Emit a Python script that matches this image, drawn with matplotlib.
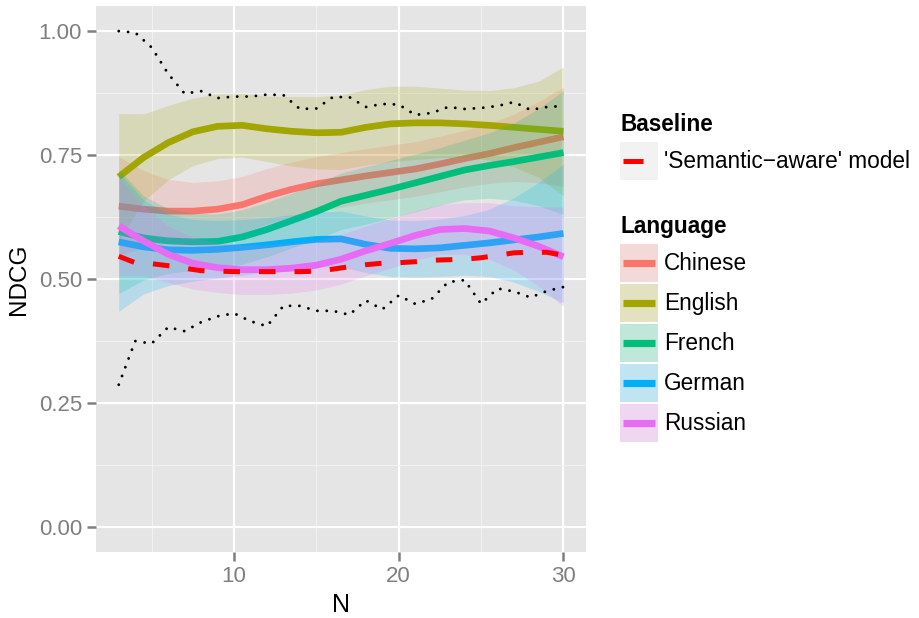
import numpy as np
import matplotlib
matplotlib.use('Agg')
import matplotlib.pyplot as plt
from matplotlib.patches import Rectangle

plt.rcParams['font.family'] = ['Liberation Sans', 'DejaVu Sans']

# raw per-N values
n_vals = list(range(3, 31))
upper_env = [1.0, 0.997, 0.967, 0.914, 0.874, 0.879, 0.865, 0.868, 0.868, 0.872,
             0.871, 0.843, 0.844, 0.867, 0.867, 0.847, 0.853, 0.852, 0.831, 0.835,
             0.847, 0.843, 0.845, 0.849, 0.857, 0.841, 0.847, 0.849]
lower_env = [0.287, 0.375, 0.370, 0.403, 0.395, 0.413, 0.425, 0.431, 0.415, 0.405,
             0.446, 0.446, 0.436, 0.436, 0.428, 0.457, 0.439, 0.467, 0.450, 0.460,
             0.494, 0.498, 0.450, 0.481, 0.475, 0.463, 0.476, 0.484]
semantic = [0.546, 0.533, 0.531, 0.527, 0.522, 0.517, 0.516, 0.515, 0.515, 0.515,
            0.515, 0.515, 0.516, 0.520, 0.525, 0.529, 0.532, 0.533, 0.535, 0.538,
            0.539, 0.540, 0.543, 0.548, 0.553, 0.554, 0.554, 0.548]

# smoothed fits per language
x_fit = [3, 4.5, 6, 7.5, 9, 10.5, 12, 13.5, 15, 16.5, 18, 19.5, 21, 22.5, 24, 25.5, 27, 28.5, 30]
languages = ['Chinese', 'English', 'French', 'German', 'Russian']
colors = ['#F8766D', '#A3A500', '#00BF7D', '#00B0F6', '#E76BF3']

fit_chinese = [0.647, 0.641, 0.637, 0.637, 0.641, 0.650, 0.667, 0.681, 0.692, 0.700,
               0.708, 0.715, 0.722, 0.732, 0.743, 0.753, 0.765, 0.776, 0.787]
se_chinese = [0.100, 0.078, 0.064, 0.058, 0.057, 0.057, 0.056, 0.055, 0.055, 0.055,
              0.055, 0.055, 0.055, 0.056, 0.057, 0.060, 0.068, 0.082, 0.100]
fit_english = [0.706, 0.745, 0.775, 0.797, 0.808, 0.810, 0.803, 0.798, 0.795, 0.796,
               0.806, 0.813, 0.815, 0.815, 0.813, 0.810, 0.806, 0.802, 0.798]
se_english = [0.128, 0.088, 0.075, 0.068, 0.065, 0.064, 0.066, 0.070, 0.073, 0.075,
              0.076, 0.076, 0.074, 0.070, 0.068, 0.070, 0.080, 0.097, 0.130]
fit_french = [0.596, 0.583, 0.577, 0.575, 0.576, 0.585, 0.600, 0.618, 0.636, 0.657,
              0.669, 0.681, 0.694, 0.707, 0.720, 0.729, 0.737, 0.746, 0.755]
se_french = [0.125, 0.085, 0.065, 0.058, 0.055, 0.055, 0.055, 0.055, 0.056, 0.057,
             0.058, 0.058, 0.058, 0.058, 0.060, 0.066, 0.078, 0.098, 0.125]
fit_german = [0.575, 0.565, 0.559, 0.558, 0.560, 0.564, 0.569, 0.575, 0.580, 0.581,
              0.570, 0.562, 0.561, 0.563, 0.568, 0.573, 0.579, 0.585, 0.592]
se_german = [0.140, 0.095, 0.072, 0.062, 0.058, 0.056, 0.055, 0.055, 0.055, 0.056,
             0.057, 0.057, 0.057, 0.058, 0.060, 0.068, 0.085, 0.110, 0.140]
fit_russian = [0.607, 0.577, 0.550, 0.532, 0.523, 0.519, 0.519, 0.522, 0.528, 0.540,
               0.557, 0.572, 0.588, 0.600, 0.602, 0.597, 0.583, 0.566, 0.545]
se_russian = [0.100, 0.070, 0.057, 0.052, 0.050, 0.050, 0.050, 0.050, 0.050, 0.050,
              0.050, 0.050, 0.050, 0.050, 0.052, 0.057, 0.065, 0.080, 0.100]

fits = [fit_chinese, fit_english, fit_french, fit_german, fit_russian]
ses = [se_chinese, se_english, se_french, se_german, se_russian]

fig = plt.figure(figsize=(9.19, 6.18), dpi=100)
ax = fig.add_axes([0.105, 0.107, 0.5323, 0.8828])
ax.set_facecolor('#E5E5E5')

x = np.array(x_fit)
for fit, se, col in zip(fits, ses, colors):
    fit = np.array(fit)
    se = np.array(se)
    ax.fill_between(x, fit - se, fit + se, color=col, alpha=0.2, lw=0, zorder=2)
    ax.plot(x, fit, color=col, lw=4.8, solid_capstyle='butt', zorder=2)

ax.plot(n_vals, semantic, color='#FF0000', lw=3.6, linestyle=(0, (3.3, 3.8)),
        dash_capstyle='butt', zorder=3)
for env in (upper_env, lower_env):
    ax.plot(n_vals, env, color='black', lw=2.1, linestyle=(0, (0.01, 3.2)),
            dash_capstyle='round', zorder=3)

ax.set_xlim(1.65, 31.35)
ax.set_ylim(-0.05, 1.05)
ax.set_xticks([10, 20, 30])
ax.set_yticks([0, 0.25, 0.5, 0.75, 1.0])
ax.set_yticklabels(['0.00', '0.25', '0.50', '0.75', '1.00'])
ax.set_xticks([5, 15, 25], minor=True)
ax.set_yticks([0.125, 0.375, 0.625, 0.875], minor=True)
ax.grid(which='major', color='white', lw=1.6, zorder=0)
ax.grid(which='minor', color='#F2F2F2', lw=0.7, zorder=0)
ax.set_axisbelow(True)
for s in ax.spines.values():
    s.set_visible(False)
ax.tick_params(which='major', length=6.5, width=1.8, color='#7F7F7F',
               labelcolor='#7F7F7F', labelsize=16, pad=4)
ax.tick_params(which='minor', length=0)
ax.set_xlabel('N', fontsize=18, labelpad=4)
ax.set_ylabel('NDCG', fontsize=17.5, labelpad=6)

# legend drawn in pixel space
lg = fig.add_axes([0, 0, 1, 1], facecolor='none')
lg.set_xlim(0, 919)
lg.set_ylim(618, 0)
lg.axis('off')

lg.text(620, 131, 'Baseline', fontsize=16.3, fontweight='bold', va='baseline')
lg.add_patch(Rectangle((620, 142), 38, 38, color='#F2F2F2', lw=0))
lg.plot([623, 643], [161, 161], color='#FF0000', lw=3.6, solid_capstyle='butt')
lg.text(664, 161.5, "'Semantic\u2212aware' model", fontsize=16.3, va='center')

lg.text(620, 233.5, 'Language', fontsize=16.3, fontweight='bold', va='baseline')
for i, (name, col) in enumerate(zip(languages, colors)):
    top = 244 + 40 * i
    lg.add_patch(Rectangle((620, top), 38, 38, color='#F2F2F2', lw=0))
    lg.add_patch(Rectangle((620, top), 38, 38, color=col, alpha=0.2, lw=0))
    lg.plot([623, 655], [top + 19, top + 19], color=col, lw=5.2, solid_capstyle='butt')
    lg.text(664, top + 19.5, name, fontsize=16.3, va='center')

fig.savefig('out.png', dpi=100)
